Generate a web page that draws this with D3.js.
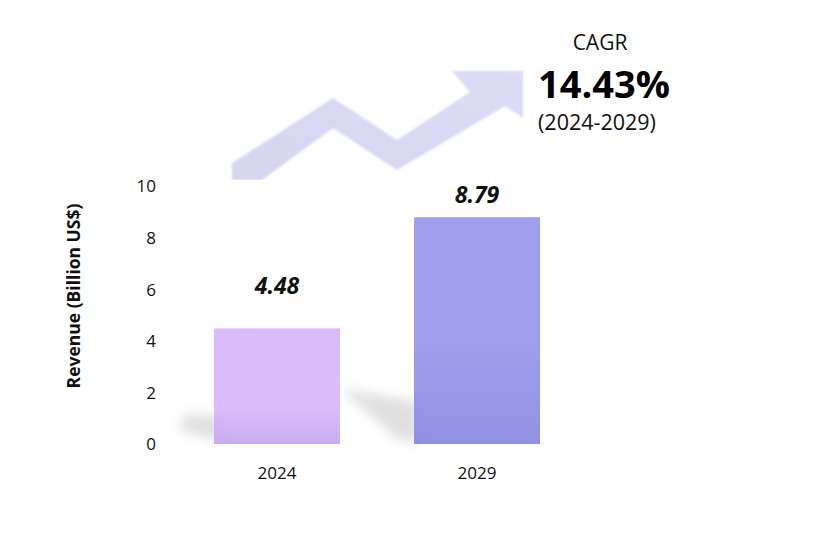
<!DOCTYPE html>
<html><head><meta charset="utf-8">
<script src="https://cdn.jsdelivr.net/npm/d3@7"></script>
<style>body{margin:0;background:#fff}svg{display:block}</style>
</head><body>
<svg id="c" width="820" height="538"></svg>
<script>
const categories = ["2024", "2029"];
const values = [4.48, 8.79];
const valueLabels = ["4.48", "8.79"];
const yTicks = [0, 2, 4, 6, 8, 10];
const barColors = ["#d8b9fb", "#9c9bed"];
const barShade = ["#c9a8ee", "#8d8be0"];
const cagrTitle = "CAGR";
const cagrValue = "14.43%";
const cagrPeriod = "(2024-2029)";
const yTitle = "Revenue (Billion US$)";

const svg = d3.select("#c");
const font = "'Open Sans', 'Noto Sans', sans-serif";
const y = d3.scaleLinear().domain([0, 10]).range([444, 186]);
const x = d3.scaleBand().domain(categories).range([177, 577]).paddingInner(0.37).paddingOuter(0.185);

const defs = svg.append("defs");
defs.append("filter").attr("id", "blur").attr("x", "-50%").attr("y", "-50%").attr("width", "200%").attr("height", "200%")
  .append("feGaussianBlur").attr("stdDeviation", 6);
defs.append("filter").attr("id", "ablur").append("feGaussianBlur").attr("stdDeviation", 1.2);
const ag = defs.append("linearGradient").attr("id", "arrowGrad").attr("x1", 0).attr("y1", 1).attr("x2", 1).attr("y2", 0);
ag.append("stop").attr("offset", 0).attr("stop-color", "#d6d6f1");
ag.append("stop").attr("offset", 1).attr("stop-color", "#dcdcf6");
categories.forEach((c, i) => {
  const g = defs.append("linearGradient").attr("id", "bg" + i).attr("x1", 0).attr("y1", 0).attr("x2", 0).attr("y2", 1);
  g.append("stop").attr("offset", 0).attr("stop-color", barColors[i]);
  g.append("stop").attr("offset", i === 0 ? 0.7 : 0.55).attr("stop-color", barColors[i]);
  g.append("stop").attr("offset", 1).attr("stop-color", barShade[i]);
});

// arrow (decorative)
const arrowPts = [[232,180],[232,163],[333,98],[397,140],[470,92],[452,71],[523,71],[523,118],[505,106],[397,170],[333,128],[262,180]];
svg.append("path").attr("d", d3.line()(arrowPts) + "Z")
  .attr("fill", "url(#arrowGrad)").attr("filter", "url(#ablur)");
svg.append("rect").attr("x", 200).attr("y", 180).attr("width", 80).attr("height", 20).attr("fill", "#fff");

// shadows
const sh = svg.append("g").attr("filter", "url(#blur)").attr("fill", "#dadada").attr("opacity", 0.85);
sh.append("path").attr("d", d3.line()([[x("2024") + 10, y(0) - 2], [x("2024") - 36, y(0) - 14], [x("2024") - 28, y(0) - 30], [x("2024") + 10, y(0) - 28]]) + "Z");
sh.append("path").attr("d", d3.line()([[x("2024") + x.bandwidth(), y(0) - 55], [x("2029") + 5, y(0) - 42], [x("2029") + 5, y(0) - 2], [x("2029") - 15, y(0) - 4]]) + "Z");

// bars
svg.selectAll(".bar").data(values).join("rect").attr("class", "bar")
  .attr("x", (d, i) => x(categories[i])).attr("width", x.bandwidth())
  .attr("y", d => y(d)).attr("height", d => y(0) - y(d))
  .attr("fill", (d, i) => `url(#bg${i})`).attr("opacity", 0.96);

// value labels
svg.selectAll(".vl").data(values).join("text").attr("class", "vl")
  .attr("x", (d, i) => x(categories[i]) + x.bandwidth() / 2).attr("y", (d, i) => y(d) - (i === 0 ? 34 : 14))
  .attr("text-anchor", "middle").attr("font-family", font).attr("font-weight", "bold")
  .attr("font-style", "italic").attr("font-size", 23).attr("fill", "#111")
  .text((d, i) => valueLabels[i]);

// y axis
const ya = svg.append("g").attr("transform", "translate(160,0)")
  .call(d3.axisLeft(y).tickValues(yTicks).tickSize(0).tickPadding(0).tickFormat(d3.format("d")));
ya.select(".domain").remove();
ya.selectAll("text").attr("font-family", font).attr("font-size", 17).attr("fill", "#111").attr("dy", "0.35em").attr("x", -4);

// x axis
const xa = svg.append("g").attr("transform", "translate(0,460)")
  .call(d3.axisBottom(x).tickSize(0).tickPadding(0));
xa.select(".domain").remove();
xa.selectAll("text").attr("font-family", font).attr("font-size", 17).attr("fill", "#111").attr("dy", "1.1em");

// y title
svg.append("text").attr("transform", "translate(80,296) rotate(-90)").attr("text-anchor", "middle")
  .attr("font-family", font).attr("font-weight", "bold").attr("font-size", 17.5).attr("fill", "#111").text(yTitle);

// CAGR
svg.append("text").attr("x", 600).attr("y", 50).attr("text-anchor", "middle")
  .attr("font-family", font).attr("font-size", 21).attr("fill", "#111").text(cagrTitle);
svg.append("text").attr("x", 538).attr("y", 98)
  .attr("font-family", font).attr("font-weight", "bold").attr("font-size", 38).attr("fill", "#000").text(cagrValue);
svg.append("text").attr("x", 538).attr("y", 130)
  .attr("font-family", font).attr("font-size", 21.5).attr("fill", "#111").text(cagrPeriod);
</script>
</body></html>
